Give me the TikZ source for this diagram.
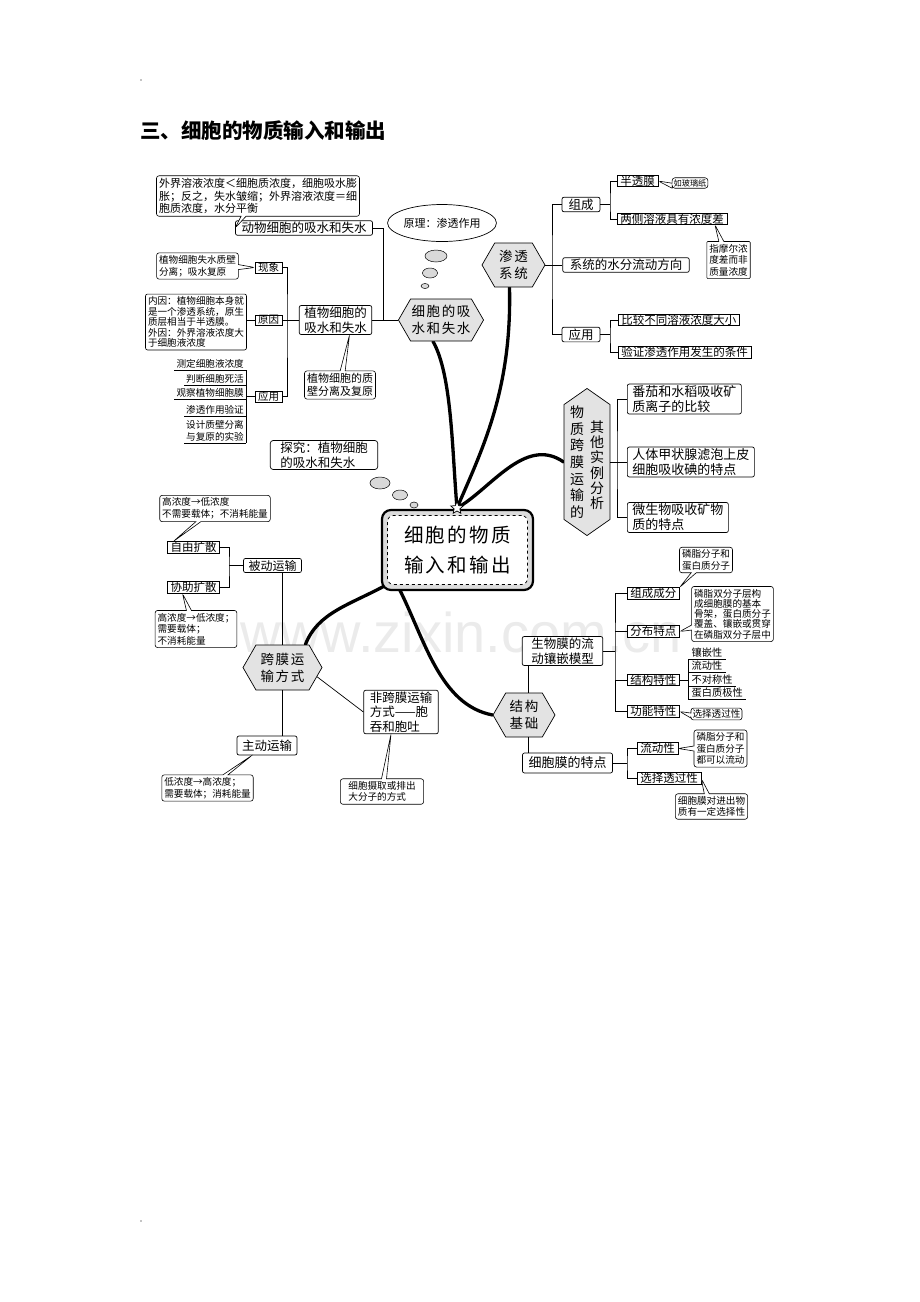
\documentclass[tikz,border=0pt]{standalone}
\usepackage{fontspec}
\setmainfont{Noto Sans CJK SC}
\newfontfamily\hexfont[LetterSpace=12]{Noto Sans CJK SC}
\newfontfamily\wmfont{Liberation Sans}
\usetikzlibrary{shapes,positioning,calc,backgrounds}

\newcommand\fmain{\fontsize{12.5}{14.5}\selectfont}
\newcommand\fmid{\fontsize{11.5}{13}\selectfont}
\newcommand\fsm{\fontsize{9.6}{11.6}\selectfont}
\newcommand\ftiny{\fontsize{8.2}{10}\selectfont}
\newcommand\fhex{\hexfont\fontsize{13.5}{17}\selectfont}
\newcommand\fhub{\hexfont\fontsize{19.5}{30}\selectfont}

\tikzset{
  link/.style = {line width=0.7pt},
  lbl/.style = {draw, fill=white, rounded corners=2pt, inner xsep=5pt,
    inner ysep=1.5pt, align=center, font=\fmain, link},
  sq/.style = {draw, fill=white, inner xsep=3pt, inner ysep=0.5pt,
    font=\fmid, link},% square box
  plain/.style = {draw, fill=white, rounded corners=2pt, inner sep=2.5pt,
    align=left, font=\fsm, line width=0.6pt},
  note/.style = {plain, rectangle callout, callout pointer width=5pt,
    rounded corners=2.5pt},% rounded note with pointer
  ul/.style = {inner xsep=2pt, inner ysep=1.5pt, font=\fsm},% underlined item
  hexa/.style = {signal, signal to=east and west, signal pointer angle=120,
    draw, fill=gray!22, font=\fhex, align=center, inner sep=1pt, link},
  bubble/.style = {ellipse, draw, fill=gray!30, inner sep=0pt, line width=0.5pt},
  branch/.style = {line width=3.3pt, line cap=round}
}

\begin{document}
\begin{tikzpicture}[x=1pt,y=-1pt]
\useasboundingbox (0,0) rectangle (920,1302);

\fill (141,80) circle (0.7); \fill (141,1221) circle (0.7);
\node[anchor=west, inner sep=0pt, font=\bfseries\fontsize{20.5}{22}\selectfont]
  (title) at (140,131) {三、细胞的物质输入和输出};

% water uptake and loss
\node[lbl, inner xsep=6pt] (animal) at (304,228) {动物细胞的吸水和失水};
\node[note, font=\fontsize{11}{12.5}\selectfont, callout absolute pointer={(animal.west)}]
  (animalnote) at (258,196) {外界溶液浓度＜细胞质浓度，细胞吸水膨\\胀；反之，失水皱缩；外界溶液浓度＝细\\胞质浓度，水分平衡};
\node[lbl] (plant) at (335.5,320) {植物细胞的\\吸水和失水};
\node[sq, font=\fontsize{10.5}{12}\selectfont] (phen) at (268.5,267.5) {现象};
\node[sq, font=\fontsize{10.5}{12}\selectfont] (cause) at (268.5,320) {原因};
\node[sq, font=\fontsize{10.5}{12}\selectfont] (use1) at (268.5,396.5) {应用};
\coordinate (sp1) at (287,320);
\draw[link] (phen.east) -| (sp1) |- (use1.east);
\draw[link] (cause.east) -- (plant.west);
\node[note, callout absolute pointer={(phen.west)}] (phennote) at (197.5,266) {植物细胞失水质壁\\分离；吸水复原};
\node[plain, font=\fontsize{9.6}{10.5}\selectfont] (causenote) at (196,322)
  {内因：植物细胞本身就\\是一个渗透系统，原生\\质层相当于半透膜。\\外因：外界溶液浓度大\\于细胞液浓度};
\draw[link] (causenote.east |- cause.west) -- (cause.west);
\node[ul, anchor=south east] (u1) at (246,370) {测定细胞液浓度};
\node[ul, anchor=south east] (u2) at (246,385) {判断细胞死活};
\node[ul, anchor=south east] (u3) at (246,399) {观察植物细胞膜};
\node[ul, anchor=south east] (u4) at (246,416) {渗透作用验证};
\node[ul, anchor=south east, align=right] (u5) at (246,443) {设计质壁分离\\与复原的实验};
\foreach \u in {u1,u2,u3,u4,u5}
  \draw[link] (\u.south west) -- (\u.south east);
\draw[link] (u1.south east) -- (u5.south east);
\draw[link] (use1.west) -- (use1.west -| u1.south east);
\node[note, font=\fontsize{11}{13}\selectfont, callout absolute pointer={([xshift=14pt]plant.south)}]
  (plantnote) at (340,385) {植物细胞的质\\壁分离及复原};

\node[hexa, minimum width=78pt, minimum height=42pt] (hcell) at (441,320) {细胞的吸\\水和失水};
\coordinate (sp2) at (383,320);
\draw[link] (animal.east) -| (sp2);
\draw[link] (plant.east) -- (hcell.west);
\node[ellipse, draw, fill=white, minimum width=100pt, minimum height=37pt, inner sep=0pt,
  font=\fontsize{11}{13}\selectfont, link] (rule) at (442,223) {原理：渗透作用};
\node[bubble, minimum width=22pt, minimum height=12pt] (b1) at (436,256) {};
\node[bubble, minimum width=15pt, minimum height=10pt] (b2) at (430,273) {};
\node[bubble, minimum width=8pt, minimum height=5pt] (b3) at (425,286) {};

% osmotic system
\node[hexa, minimum width=63pt, minimum height=44pt] (hosm) at (513.5,265) {渗透\\系统};
\node[lbl, inner xsep=6.5pt] (comp1) at (581,204.5) {组成};
\node[lbl, inner xsep=7pt] (flow) at (626,265) {系统的水分流动方向};
\node[lbl, inner xsep=6.5pt] (use2) at (581,334.5) {应用};
\coordinate (sp3) at (552,265);
\draw[link] (hosm.east) -- (flow.west);
\draw[link] (comp1.west) -| (sp3) |- (use2.west);
\node[sq, anchor=west] (semi) at (617,181) {半透膜};
\node[sq, anchor=west] (diff) at (617,219) {两侧溶液具有浓度差};
\coordinate (sp4) at (610,204.5);
\draw[link] (comp1.east) -- (sp4);
\draw[link] (semi.west) -| (sp4) |- (diff.west);
\node[note, font=\ftiny, inner sep=1.5pt, rounded corners=3pt, callout absolute pointer={(semi.east)}]
  (glass) at (690,183) {如玻璃纸};
\node[note, align=center, rounded corners=1pt, callout absolute pointer={(715,225)}]
  (molar) at (728.5,260) {指摩尔浓\\度差而非\\质量浓度};
\node[sq, anchor=west] (cmp) at (618,320) {比较不同溶液浓度大小};
\node[sq, anchor=west] (verify) at (618,352) {验证渗透作用发生的条件};
\coordinate (sp5) at (610,334.5);
\draw[link] (use2.east) -- (sp5);
\draw[link] (cmp.west) -| (sp5) |- (verify.west);

% other examples
\node[hexa, signal to=north and south, signal pointer angle=110, minimum width=46pt,
  minimum height=134pt] (hother) at (587,462)
  {\parbox[b]{15pt}{\centering\fontsize{14}{16.7}\selectfont 物\\质\\跨\\膜\\运\\输\\的}\hspace{5pt}%
   \raisebox{9pt}{\parbox[b]{15pt}{\centering\fontsize{14}{15.2}\selectfont 其\\他\\实\\例\\分\\析}}};
\node[lbl, anchor=west, align=left, font=\fontsize{13}{15}\selectfont] (tomato) at (627,399) {番茄和水稻吸收矿\\质离子的比较};
\node[lbl, anchor=west, align=left, font=\fontsize{13}{15}\selectfont] (thyroid) at (627,462) {人体甲状腺滤泡上皮\\细胞吸收碘的特点};
\node[lbl, anchor=west, align=left, font=\fontsize{13}{15}\selectfont] (microbe) at (627,517.5) {微生物吸收矿物\\质的特点};
\coordinate (sp6) at (617,462);
\draw[link] (hother.east) -- (thyroid.west);
\draw[link] (tomato.west) -| (sp6) |- (microbe.west);

% hub
\node[draw, line width=2.2pt, rounded corners=9pt, fill=gray!28, minimum width=151pt,
  minimum height=80pt, inner sep=0pt] (hub) at (457.5,550) {};
\node[draw, dashed, fill=white, rounded corners=6pt, minimum width=140pt, minimum height=69pt,
  align=center, font=\fhub, link] (hubtext) at (hub) {细胞的物质\\输入和输出};
\node[star, star points=5, star point ratio=2.2, draw, fill=white, minimum size=13pt,
  inner sep=0pt, link] (hubstar) at (457,508) {};

% ways across the membrane
\node[lbl, align=left, inner xsep=10pt, rounded corners=3pt] (explore) at (324,455) {探究：植物细胞\\的吸水和失水};
\node[bubble, minimum width=20pt, minimum height=12pt] (b4) at (380,483) {};
\node[bubble, minimum width=15pt, minimum height=10pt] (b5) at (400,495) {};
\node[bubble, minimum width=8pt, minimum height=6pt] (b6) at (414,505) {};
\node[sq] (free) at (193.5,547.5) {自由扩散};
\node[sq] (facil) at (193.5,587.5) {协助扩散};
\node[lbl, font=\fontsize{12}{14}\selectfont] (passive) at (272.5,565.5) {被动运输};
\coordinate (sp7) at (229,565.5);
\draw[link] (free.east) -| (sp7) |- (facil.east);
\draw[link] (passive.west) -- (sp7);
\node[note, callout absolute pointer={([xshift=-20pt]free.north)}] (freenote) at (215,508.5) {高浓度→低浓度\\不需要载体；不消耗能量};
\node[note, callout absolute pointer={([xshift=-11pt]facil.south)}] (facnote) at (196,629) {高浓度→低浓度；\\需要载体；\\不消耗能量};
\node[hexa, minimum width=79pt, minimum height=45pt] (hcross) at (282.5,667.5) {跨膜运\\输方式};
\draw[link] (hcross.north) -- (hcross.north |- passive.south);
\node[lbl, minimum height=19pt] (active) at (267,745.5) {主动运输};
\draw[link] (hcross.south) -- (hcross.south |- active.north);
\node[note, callout absolute pointer={([xshift=-15pt]active.south)}] (actnote) at (207.5,788) {低浓度→高浓度；\\需要载体；消耗能量};
\node[lbl, align=left, inner xsep=6pt] (endo) at (401,712) {非跨膜运输\\方式——胞\\吞和胞吐};
\draw[link] (hcross.-15) -- (endo.west);
\node[note, inner xsep=8pt, callout absolute pointer={([xshift=-10pt]endo.south)}] (endonote) at (382,791.5) {细胞摄取或排出\\大分子的方式};

% structural basis
\node[hexa, minimum width=62pt, minimum height=44pt] (hstruct) at (524,715) {结构\\基础};
\node[lbl, inner xsep=9pt] (bio) at (562.5,651) {生物膜的流\\动镶嵌模型};
\draw[link] ([xshift=4pt]hstruct.north) -- ([xshift=4pt]hstruct.north |- bio.south);
\node[lbl, font=\fontsize{13}{15}\selectfont, inner xsep=6pt, minimum height=20pt] (membr) at (567.5,763) {细胞膜的特点};
\draw[link] ([xshift=4pt]hstruct.south) -- ([xshift=4pt]hstruct.south |- membr.north);
\node[sq, anchor=west] (ingr) at (627,593.5) {组成成分};
\node[sq, anchor=west] (distr) at (627,631.5) {分布特点};
\node[sq, anchor=west] (strc) at (627,680) {结构特性};
\node[sq, anchor=west] (func) at (627,711.5) {功能特性};
\coordinate (sp8) at (615,651);
\draw[link] (bio.east) -- (sp8);
\draw[link] (ingr.west) -| (sp8) |- (func.west);
\draw[link] (distr.west) -- (distr.west -| sp8);
\draw[link] (strc.west) -- (strc.west -| sp8);
\node[note, callout absolute pointer={(ingr.north east)}] (ingrnote) at (706,560) {磷脂分子和\\蛋白质分子};
\node[note, font=\fontsize{9.6}{10.3}\selectfont, callout absolute pointer={(distr.east)}] (distrnote) at (732.5,614)
  {磷脂双分子层构\\成细胞膜的基本\\骨架，蛋白质分子\\覆盖、镶嵌或贯穿\\在磷脂双分子层中};
\node[ul, anchor=south west, inner xsep=3.5pt, font=\fontsize{10.2}{12}\selectfont] (s1) at (688,659) {镶嵌性};
\node[ul, anchor=south west, inner xsep=3.5pt, font=\fontsize{10.2}{12}\selectfont] (s2) at (688,672) {流动性};
\node[ul, anchor=south west, inner xsep=3.5pt, font=\fontsize{10.2}{12}\selectfont] (s3) at (688,686) {不对称性};
\node[ul, anchor=south west, inner xsep=3.5pt, font=\fontsize{10.2}{12}\selectfont] (s4) at (688,699) {蛋白质极性};
\foreach \u in {s1,s2,s3,s4}
  \draw[link] (\u.south west) -- (\u.south east);
\draw[link] (s1.south west) -- (s4.south west);
\draw[link] (strc.east) -- (strc.east -| s1.south west);
\node[note, inner sep=1.5pt, callout absolute pointer={(func.east)}] (funcnote) at (716.5,714) {选择透过性};
\node[sq, anchor=west] (fluid) at (637,748.5) {流动性};
\node[sq, anchor=west] (selp) at (637,778.5) {选择透过性};
\coordinate (sp9) at (627,763);
\draw[link] (membr.east) -- (sp9);
\draw[link] (fluid.west) -| (sp9) |- (selp.west);
\node[note, callout absolute pointer={(fluid.east)}] (fluidnote) at (720.5,748.5) {磷脂分子和\\蛋白质分子\\都可以流动};
\node[note, callout absolute pointer={(selp.east)}] (selnote) at (711.5,806.5) {细胞膜对进出物\\质有一定选择性};

% watermark and main branches behind
\begin{scope}[on background layer]
\node[text=gray!16, anchor=base, inner sep=0pt, font=\wmfont\fontsize{56}{56}\selectfont] (wm) at (461,652) {www.zixin.com.cn};
\draw[branch] ([xshift=-8pt]hcell.south) .. controls (452,375) and (452,450) .. (hubstar.center);
\draw[branch] ([xshift=-4pt]hosm.south) .. controls (512,390) and (482,450) .. (hubstar.center);
\draw[branch] (hother.west) .. controls (525,435) and (490,490) .. (hubstar.center);
\draw[branch] ([xshift=7pt,yshift=7pt]hub.south west) .. controls (350,605) and (318,612) .. (hcross.45);
\draw[branch] ([xshift=18pt,yshift=3pt]hub.south west) .. controls (425,640) and (440,705) .. (hstruct.west);
\end{scope}
\end{tikzpicture}
\end{document}
